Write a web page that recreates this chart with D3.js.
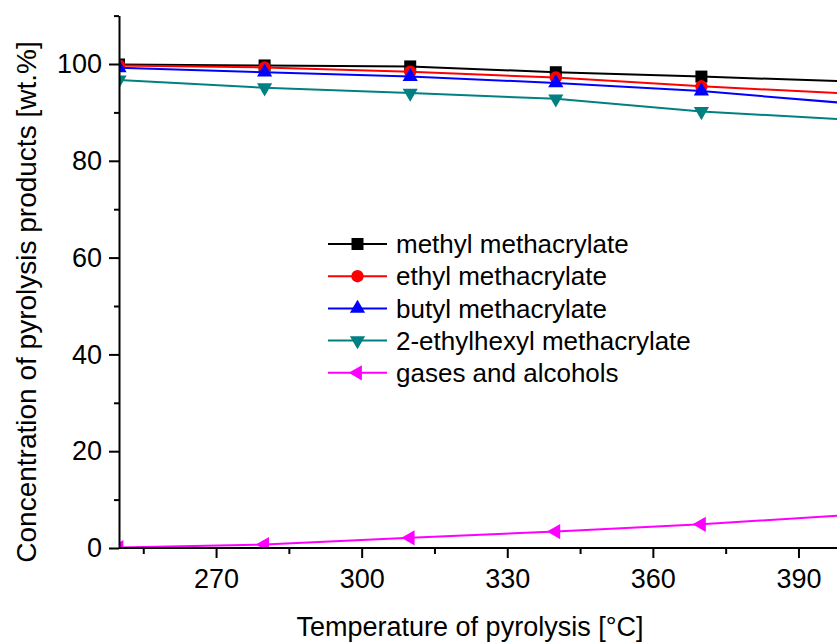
<!DOCTYPE html>
<html>
<head>
<meta charset="utf-8">
<script src="https://cdn.jsdelivr.net/npm/d3@7"></script>
<style>
  body { margin: 0; background: #fff; }
  svg { display: block; font-family: "Liberation Sans", Arial, sans-serif; }
</style>
</head>
<body>
<div id="chart"></div>
<script>
// temperatures of pyrolysis [°C]
var temperatures = [250, 280, 310, 340, 370, 400];
// concentrations [wt.%]
var methylMA = [99.9, 99.7, 99.5, 98.3, 97.4, 96.4];
var ethylMA = [99.7, 99.3, 98.4, 97.2, 95.4, 93.9];
var butylMA = [99.2, 98.3, 97.4, 96.1, 94.4, 91.9];
var ethylhexylMA = [96.7, 95.1, 94.0, 92.8, 90.2, 88.5];
var gasesAlcohols = [0.1, 0.7, 2.1, 3.4, 4.9, 6.8];

var seriesNames = ['methyl methacrylate', 'ethyl methacrylate', 'butyl methacrylate',
                   '2-ethylhexyl methacrylate', 'gases and alcohols'];
var seriesColors = ['#000000', '#ff0000', '#0000ff', '#008080', '#ff00ff'];
var seriesSymbols = ['square', 'circle', 'up', 'down', 'left'];

var xTicks = [270, 300, 330, 360, 390];
var xMinorTicks = [255, 285, 315, 345, 375];
var yTicks = [0, 20, 40, 60, 80, 100];
var yMinorTicks = [10, 30, 50, 70, 90, 110];

var width = 837, height = 642;
var margin = { left: 119, top: 15.6, bottom: 548 };

var svg = d3.select('#chart').append('svg')
  .attr('width', width)
  .attr('height', height);

var x = d3.scaleLinear().domain([250, 400]).range([margin.left, 847]);
var y = d3.scaleLinear().domain([0, 110]).range([margin.bottom, margin.top]);

var allSeries = [methylMA, ethylMA, butylMA, ethylhexylMA, gasesAlcohols].map(function(vals, i) {
  return {
    name: seriesNames[i],
    color: seriesColors[i],
    symbol: seriesSymbols[i],
    points: vals.map(function(v, j) { return { t: temperatures[j], v: v }; })
  };
});

// marker path generator
function markerPath(kind) {
  if (kind === 'square') return d3.symbol().type(d3.symbolSquare).size(144)();
  if (kind === 'circle') return d3.symbol().type(d3.symbolCircle).size(120)();
  return d3.symbol().type(d3.symbolTriangle).size(100)();
}
function markerRotate(kind) {
  if (kind === 'down') return 180;
  if (kind === 'left') return -90;
  return 0;
}

svg.append('defs').append('clipPath').attr('id', 'plotClip')
  .append('rect')
  .attr('x', margin.left)
  .attr('y', 0)
  .attr('width', width - margin.left)
  .attr('height', margin.bottom);

var plot = svg.append('g').attr('clip-path', 'url(#plotClip)');

var line = d3.line()
  .x(function(d) { return x(d.t); })
  .y(function(d) { return y(d.v); });

allSeries.forEach(function(s) {
  var g = plot.append('g');
  g.append('path')
    .attr('d', line(s.points))
    .attr('fill', 'none')
    .attr('stroke', s.color)
    .attr('stroke-width', 2);
  g.selectAll('path.mk')
    .data(s.points)
    .enter()
    .append('path')
    .attr('class', 'mk')
    .attr('d', markerPath(s.symbol))
    .attr('transform', function(d) {
      return 'translate(' + x(d.t) + ',' + y(d.v) + ') rotate(' + markerRotate(s.symbol) + ')';
    })
    .attr('fill', s.color);
});

// axes
function styleAxis(g, fontSize) {
  g.attr('font-family', '"Liberation Sans", Arial, sans-serif')
   .attr('font-size', fontSize);
  g.selectAll('path, line').attr('stroke', '#000').attr('stroke-width', 2);
  g.selectAll('text').attr('fill', '#000');
}

var xAxis = svg.append('g')
  .attr('transform', 'translate(0,' + margin.bottom + ')')
  .call(d3.axisBottom(x).tickValues(xTicks).tickSize(10).tickSizeOuter(0).tickPadding(11));
styleAxis(xAxis, 27);
xAxis.select('.domain').attr('d', 'M' + margin.left + ',0H' + width);

var xMinor = svg.append('g')
  .attr('transform', 'translate(0,' + margin.bottom + ')')
  .call(d3.axisBottom(x).tickValues(xMinorTicks).tickSize(6).tickFormat(''));
xMinor.select('.domain').remove();
styleAxis(xMinor, 27);

var yAxis = svg.append('g')
  .attr('transform', 'translate(' + margin.left + ',0)')
  .call(d3.axisLeft(y).tickValues(yTicks).tickSize(10).tickSizeOuter(0).tickPadding(7));
styleAxis(yAxis, 27);

var yMinor = svg.append('g')
  .attr('transform', 'translate(' + margin.left + ',0)')
  .call(d3.axisLeft(y).tickValues(yMinorTicks).tickSize(5).tickFormat(''));
yMinor.select('.domain').remove();
styleAxis(yMinor, 27);

// axis titles
svg.append('text')
  .attr('x', 470)
  .attr('y', 636)
  .attr('text-anchor', 'middle')
  .attr('font-size', 27)
  .text('Temperature of pyrolysis [°C]');

svg.append('text')
  .attr('transform', 'translate(36,302) rotate(-90)')
  .attr('text-anchor', 'middle')
  .attr('font-size', 28)
  .text('Concentration of pyrolysis products [wt.%]');

// legend
var legend = svg.append('g').attr('transform', 'translate(328,244)');
var rows = legend.selectAll('g')
  .data(allSeries)
  .enter()
  .append('g')
  .attr('transform', function(d, i) { return 'translate(0,' + (i * 32.2) + ')'; });
rows.append('line')
  .attr('x1', 0).attr('x2', 59)
  .attr('stroke', function(d) { return d.color; })
  .attr('stroke-width', 2);
rows.append('path')
  .attr('d', function(d) { return markerPath(d.symbol); })
  .attr('transform', function(d) { return 'translate(29.5,0) rotate(' + markerRotate(d.symbol) + ')'; })
  .attr('fill', function(d) { return d.color; });
rows.append('text')
  .attr('x', 68)
  .attr('dy', '0.35em')
  .attr('font-size', 26)
  .text(function(d) { return d.name; });
</script>
</body>
</html>
